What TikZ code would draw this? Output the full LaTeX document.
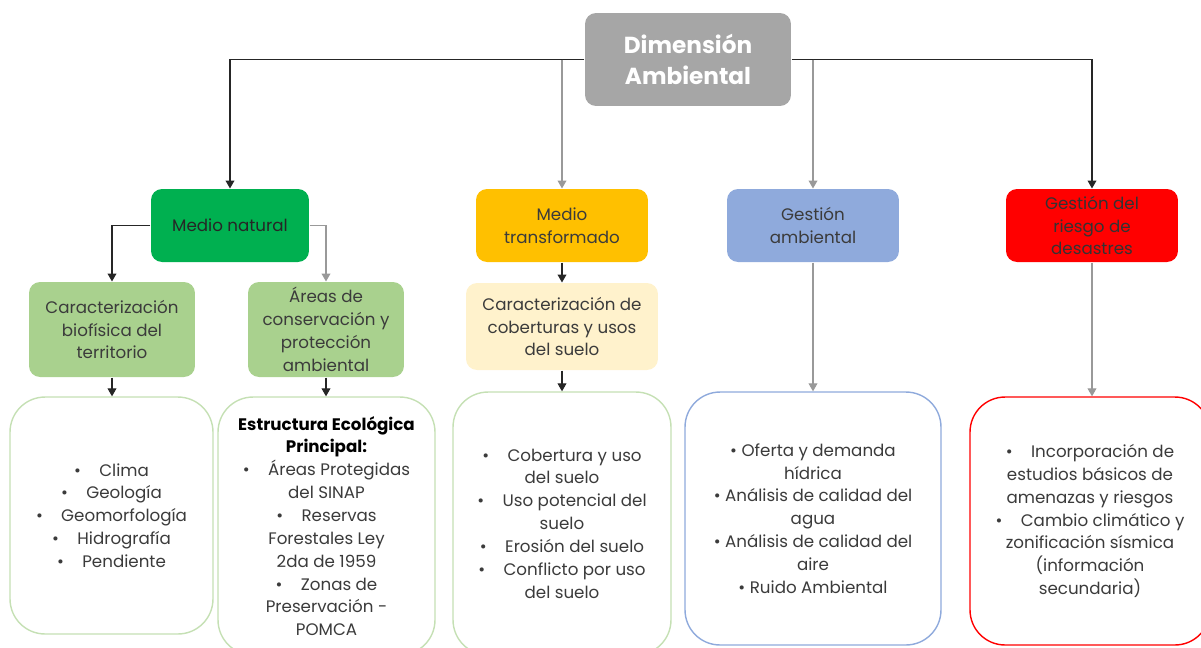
\documentclass[tikz,border=0pt]{standalone}
\usepackage{fontspec}
\setmainfont{Poppins}
\usetikzlibrary{arrows.meta}

\definecolor{gristitulo}{HTML}{A6A6A6}
\definecolor{verdemedio}{HTML}{00B050}
\definecolor{verdeclaro}{HTML}{A9D18E}
\definecolor{verdeborde}{HTML}{C5E0B4}
\definecolor{naranja}{HTML}{FFC000}
\definecolor{cremita}{HTML}{FFF2CC}
\definecolor{azulgestion}{HTML}{8FAADC}
\definecolor{rojoriesgo}{HTML}{FF0000}
\definecolor{textogris}{HTML}{3B3B3B}

\tikzset{every picture/.style={line width=0.6pt}}
\tikzset{
  caja/.style={rectangle, rounded corners=0.22cm, align=center, inner sep=0pt,
    font=\fontsize{9.5}{13}\selectfont, text=textogris},
  lista/.style={caja, rounded corners=0.7cm, draw, line width=0.8pt, fill=white},
  flecha/.style={-{Triangle[width=5pt,length=4.5pt]}, draw=black!85},
  flechagris/.style={flecha, draw=black!40}
}
\newcommand{\bul}{•\hspace{1.1em}}

\begin{document}
\begin{tikzpicture}[x=0.02cm, y=-0.02cm]
    \useasboundingbox (0,0) rectangle (1201,647);

    % nivel 1
    \node[caja, fill=gristitulo, text=white, minimum width=4.12cm, minimum height=1.86cm,
      font=\fontsize{13.2}{18}\selectfont\bfseries] (dim) at (688,59.5) {Dimensión\\Ambiental};

    % nivel 2
    \node[caja, fill=verdemedio, text=black!85, minimum width=3.16cm, minimum height=1.46cm] (mn) at (230,225.5) {Medio natural};
    \node[caja, fill=naranja, minimum width=3.44cm, minimum height=1.46cm] (mt) at (562,225.5) {Medio\\transformado};
    \node[caja, fill=azulgestion, minimum width=3.44cm, minimum height=1.46cm] (ga) at (813,225.5) {Gestión\\ambiental};
    \node[caja, fill=rojoriesgo, text=black!80, minimum width=3.44cm, minimum height=1.46cm] (gr) at (1092,225.5) {Gestión del\\riesgo de\\desastres};

    % nivel 3
    \node[caja, fill=verdeclaro, minimum width=3.32cm, minimum height=1.9cm] (cb) at (112,329.5) {Caracterización\\biofísica del\\territorio};
    \node[caja, fill=verdeclaro, minimum width=3.12cm, minimum height=1.9cm] (ac) at (326,329.5) {Áreas de\\conservación y\\protección\\ambiental};
    \node[caja, fill=cremita, minimum width=3.84cm, minimum height=1.74cm] (cc) at (562,326.5) {Caracterización de\\coberturas y usos\\del suelo};

    % listas
    \node[lista, draw=verdeborde, minimum width=4.06cm, minimum height=4.74cm] (l1) at (111.5,515.5)
      {\bul Clima\\ \bul Geología\\ \bul Geomorfología\\ \bul Hidrografía\\ \bul Pendiente};
    \node[lista, draw=verdeborde, minimum width=4.34cm, minimum height=5.16cm] (l2) at (326.5,526)
      {{\color{black}\bfseries Estructura Ecológica}\\ {\color{black}\bfseries Principal:}\\
       \bul Áreas Protegidas\\ del SINAP\\ \bul Reservas\\ Forestales Ley\\ 2da de 1959\\
       \bul Zonas de\\ Preservación -\\ POMCA};
    \node[lista, draw=verdeborde, minimum width=4.36cm, minimum height=5.26cm] (l3) at (562,523.5)
      {\bul Cobertura y uso\\ del suelo\\ \bul Uso potencial del\\ suelo\\ \bul Erosión del suelo\\
       \bul Conflicto por uso\\ del suelo};
    \node[lista, draw=azulgestion, minimum width=5.12cm, minimum height=5.06cm] (l4) at (813,518.5)
      {• Oferta y demanda\\ hídrica\\ • Análisis de calidad del\\ agua\\ • Análisis de calidad del\\ aire\\
       • Ruido Ambiental};
    \node[lista, draw=rojoriesgo, minimum width=4.8cm, minimum height=4.96cm] (l5) at (1090,521)
      {\bul Incorporación de\\ estudios básicos de\\ amenazas y riesgos\\ \bul Cambio climático y\\
       zonificación sísmica\\ (información\\ secundaria)};

    % conectores
    \draw[flecha] (dim.west) -| (mn.north);
    \draw[flecha] (dim.east) -| (gr.north);
    \draw[flechagris] (dim.west -| mt.north) -- (mt.north);
    \draw[flechagris] (dim.east -| ga.north) -- (ga.north);
    \draw[flecha] (mn.west) -| (cb.north);
    \draw[flechagris] (mn.east) -| (ac.north);
    \draw[flecha] (mt.south) -- (cc.north);
    \draw[flecha] (cb.south) -- (cb.south |- l1.north);
    \draw[flecha] (ac.south) -- (ac.south |- l2.north);
    \draw[flecha] (cc.south) -- (cc.south |- l3.north);
    \draw[flechagris] (ga.south) -- (ga.south |- l4.north);
    \draw[flechagris] (gr.south) -- (gr.south |- l5.north);
\end{tikzpicture}
\end{document}
